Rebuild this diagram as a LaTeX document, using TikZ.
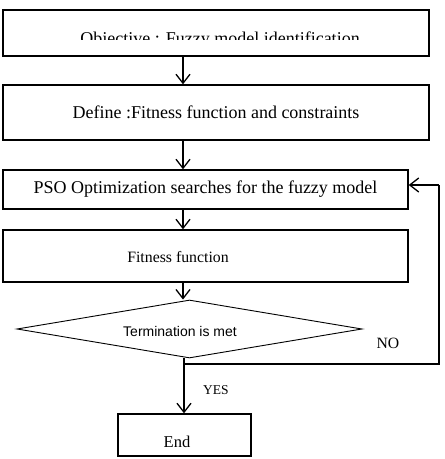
\documentclass[tikz,border=0pt]{standalone}
\usepackage{fontspec}
\setmainfont{Liberation Serif}
\newfontfamily\arialfont{Liberation Sans}
\usetikzlibrary{shapes.geometric,arrows.meta}
\begin{document}
\begin{tikzpicture}[x=1pt,y=-1pt,
  boxstyle/.style={draw,line width=1.4pt,rectangle,inner sep=0pt},
  arr/.style={line width=1.3pt,-{Straight Barb[length=9pt,width=14pt,line width=1.3pt]}},
  lin/.style={line width=1.3pt},
  bigtext/.style={font=\fontsize{18}{20}\selectfont},
  midtext/.style={font=\fontsize{15.8}{18}\selectfont}]
\useasboundingbox (0,0) rectangle (445,459);
\coordinate (ax) at (183,0);
% boxes
\node[boxstyle,minimum width=426pt,minimum height=46pt] (b1) at (216,33) {};
\begin{scope}
\clip (4,12) rectangle (428,39.5);
\node[bigtext,anchor=base] (t1) at (220,44) {Objective : Fuzzy model identification};
\end{scope}
\node[boxstyle,minimum width=426pt,minimum height=55pt,bigtext] (b2) at (216,112.5) {Define :Fitness function and constraints};
\node[boxstyle,minimum width=405pt,minimum height=39pt,bigtext] (b3) at (205.5,189.5) {PSO Optimization searches for the fuzzy model};
\node[boxstyle,minimum width=405pt,minimum height=52pt] (b4) at (205.5,256) {};
\node[midtext] (t4) at (178,257) {Fitness function};
\node[draw,line width=0.9pt,diamond,aspect=6,minimum width=345pt,minimum height=58pt,inner sep=0pt] (dia) at (189.5,329) {};
\node[font=\arialfont\fontsize{14}{16}\selectfont] (tdia) at (180,331) {Termination is met};
\node[boxstyle,minimum width=133pt,minimum height=42pt] (end) at (184.5,435) {};
\node[font=\fontsize{16.5}{18}\selectfont] (tend) at (177,442) {End};
% arrows
\draw[arr] (b1.south -| ax) -- (b2.north -| ax);
\draw[arr] (b2.south -| ax) -- (b3.north -| ax);
\draw[arr] (b3.south -| ax) -- (b4.north -| ax);
\draw[arr] (b4.south -| ax) -- (dia.north -| ax);
\coordinate (yesb) at (184,364);
\coordinate (loopr) at (439,364);
\coordinate (loopt) at (439,185);
\draw[arr] (dia.south -| yesb) -- (end.north -| yesb);
\draw[lin] (yesb) -- (loopr) -- (loopt);
\draw[arr] (loopt) -- (b3.east |- loopt);
\node[font=\fontsize{13.5}{15}\selectfont] (yes) at (216,390) {YES};
\node[font=\fontsize{15.7}{17}\selectfont] (no) at (388,343) {NO};
\end{tikzpicture}
\end{document}
